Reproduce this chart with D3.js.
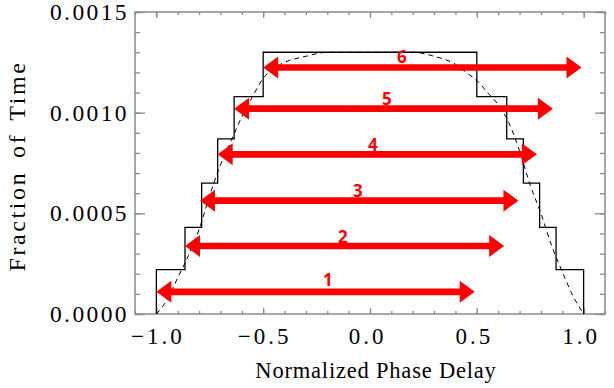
<!DOCTYPE html>
<html>
<head>
<meta charset="utf-8">
<script src="https://cdn.jsdelivr.net/npm/d3@7"></script>
<style>
    body { margin: 0; background: #fff; }
</style>
</head>
<body>
<div class="chart-container"></div>
<script>
// tick labels
const xTickValues = [-1.0, -0.5, 0.0, 0.5, 1.0];
const yTickValues = [0.0000, 0.0005, 0.0010, 0.0015];

// histogram (solid step line)
const binEdges = [-1.0, -0.866, -0.788, -0.713, -0.636, -0.5, 0.5, 0.64, 0.718, 0.794, 0.871, 1.0];
const binValues = [0.00022, 0.00043, 0.00065, 0.00087, 0.00108, 0.0013, 0.00108, 0.00087, 0.00065, 0.00043, 0.00022];

// dashed model curve
const curveX = [-1.0, -0.95, -0.9, -0.85, -0.8, -0.75, -0.7, -0.65, -0.6, -0.55, -0.5, -0.45, -0.4, -0.3, -0.2, -0.1, 0.0,
    0.1, 0.2, 0.3, 0.4, 0.45, 0.5, 0.55, 0.6, 0.65, 0.7, 0.75, 0.8, 0.85, 0.9, 0.95, 1.0];
const curveY = [0, 0.00007, 0.00018, 0.00029, 0.00042, 0.00059, 0.00074, 0.00086, 0.00098, 0.00108, 0.00117, 0.00122, 0.00125, 0.00128, 0.0013, 0.0013, 0.0013,
    0.0013, 0.0013, 0.00128, 0.00124, 0.0012, 0.00116, 0.0011, 0.00104, 0.00095, 0.00081, 0.00064, 0.0005, 0.00034, 0.00021, 0.00009, 0];

// red double arrows
const arrowLabels = ["1", "2", "3", "4", "5", "6"];
const arrowStart = [-1.0, -0.866, -0.796, -0.713, -0.636, -0.5];
const arrowEnd = [0.49, 0.628, 0.695, 0.781, 0.856, 0.99];
const arrowY = [0.00011, 0.000338, 0.000563, 0.000793, 0.00102, 0.001224];
const labelX = [-0.197, -0.127, -0.057, 0.013, 0.079, 0.149];
const labelY = [0.000169, 0.000383, 0.000611, 0.00084, 0.00107, 0.001277];

const width = 614, height = 388;
const plot = { left: 135, right: 605, top: 12, bottom: 314 };
const axisColor = "#8a8a8a";
const serif = "'Liberation Serif', 'Times New Roman', serif";

const svg = d3.select(".chart-container")
    .append("svg")
    .attr("width", width)
    .attr("height", height)
    .style("display", "block");

const xScale = d3.scaleLinear().domain([-1.1, 1.1]).range([plot.left, plot.right]);
const yScale = d3.scaleLinear().domain([0, 0.0015]).range([plot.bottom, plot.top]);

// minor ticks, all four sides
const xMinor = xScale.ticks(22);
const yMinor = yScale.ticks(15);

function styleAxis(g) {
    g.select(".domain").remove();
    g.selectAll(".tick line").attr("stroke", axisColor).attr("stroke-width", 1.3);
}

svg.append("g").attr("transform", `translate(0,${plot.bottom})`)
    .call(d3.axisBottom(xScale).tickValues(xMinor).tickSize(-3).tickFormat(""))
    .call(styleAxis);
svg.append("g").attr("transform", `translate(0,${plot.top})`)
    .call(d3.axisTop(xScale).tickValues(xMinor).tickSize(-3).tickFormat(""))
    .call(styleAxis);
svg.append("g").attr("transform", `translate(${plot.left},0)`)
    .call(d3.axisLeft(yScale).tickValues(yMinor).tickSize(-5).tickFormat(""))
    .call(styleAxis);
svg.append("g").attr("transform", `translate(${plot.right},0)`)
    .call(d3.axisRight(yScale).tickValues(yMinor).tickSize(-5).tickFormat(""))
    .call(styleAxis);

// major ticks with labels
const xAxis = svg.append("g").attr("transform", `translate(0,${plot.bottom})`)
    .call(d3.axisBottom(xScale).tickValues(xTickValues).tickSize(-6).tickPadding(14).tickFormat(d3.format(".1f")))
    .call(styleAxis);
xAxis.selectAll("text")
    .attr("fill", "#000")
    .attr("dy", "0.7em")
    .style("font-family", serif)
    .style("font-size", "23px")
    .style("letter-spacing", "3px")
    .attr("dx", d => d < 0 ? 1 : -3);

svg.append("g").attr("transform", `translate(0,${plot.top})`)
    .call(d3.axisTop(xScale).tickValues(xTickValues).tickSize(-6).tickFormat(""))
    .call(styleAxis);

const yAxis = svg.append("g").attr("transform", `translate(${plot.left},0)`)
    .call(d3.axisLeft(yScale).tickValues(yTickValues).tickSize(-10).tickPadding(6).tickFormat(d3.format(".4f")))
    .call(styleAxis);
yAxis.selectAll("text")
    .attr("fill", "#000")
    .style("font-family", serif)
    .style("font-size", "23.5px")
    .style("letter-spacing", "2.4px");

svg.append("g").attr("transform", `translate(${plot.right},0)`)
    .call(d3.axisRight(yScale).tickValues(yTickValues).tickSize(-10).tickFormat(""))
    .call(styleAxis);

// frame
svg.append("rect")
    .attr("x", plot.left)
    .attr("y", plot.top)
    .attr("width", plot.right - plot.left)
    .attr("height", plot.bottom - plot.top)
    .attr("fill", "none")
    .attr("stroke", axisColor)
    .attr("stroke-width", 1.5);

// axis titles
svg.append("text")
    .attr("x", (xScale(-1.1) + xScale(1.1)) / 2 + 6)
    .attr("y", 378)
    .attr("text-anchor", "middle")
    .style("font-family", serif)
    .style("font-size", "22.5px")
    .style("letter-spacing", "0.8px")
    .text("Normalized Phase Delay");

svg.append("text")
    .attr("transform", `translate(25, 166) rotate(-90)`)
    .attr("text-anchor", "middle")
    .style("font-family", serif)
    .style("font-size", "24px")
    .style("letter-spacing", "2.6px")
    .style("word-spacing", "4px")
    .text("Fraction of Time");

// histogram steps
const stepPoints = [[binEdges[0], 0]]
    .concat(binValues.map((v, i) => [binEdges[i], v]))
    .concat([[binEdges[binEdges.length - 1], 0]]);

const stepLine = d3.line()
    .x(d => xScale(d[0]))
    .y(d => yScale(d[1]))
    .curve(d3.curveStepAfter);

svg.append("path")
    .datum(stepPoints)
    .attr("d", stepLine)
    .attr("fill", "none")
    .attr("stroke", "#000")
    .attr("stroke-width", 1.3);

// dashed curve
const dashLine = d3.line()
    .x((d, i) => xScale(curveX[i]))
    .y(d => yScale(d))
    .curve(d3.curveMonotoneX);

svg.append("path")
    .datum(curveY)
    .attr("d", dashLine)
    .attr("fill", "none")
    .attr("stroke", "#000")
    .attr("stroke-width", 1)
    .attr("stroke-dasharray", "5,4");

// arrows
const shaft = 3.3, headLen = 15, headHalf = 11;
function arrowPath(x0, x1, y) {
    return [
        [x0, y],
        [x0 + headLen, y - headHalf],
        [x0 + headLen, y - shaft],
        [x1 - headLen, y - shaft],
        [x1 - headLen, y - headHalf],
        [x1, y],
        [x1 - headLen, y + headHalf],
        [x1 - headLen, y + shaft],
        [x0 + headLen, y + shaft],
        [x0 + headLen, y + headHalf]
    ].map(p => p.join(",")).join(" ");
}

svg.append("g")
    .selectAll("polygon")
    .data(arrowLabels)
    .join("polygon")
    .attr("points", (d, i) => arrowPath(xScale(arrowStart[i]), xScale(arrowEnd[i]), yScale(arrowY[i])))
    .attr("fill", "#ff0000");

svg.append("g")
    .selectAll("text")
    .data(arrowLabels)
    .join("text")
    .attr("x", (d, i) => xScale(labelX[i]))
    .attr("y", (d, i) => yScale(labelY[i]))
    .attr("dy", "0.36em")
    .attr("text-anchor", "middle")
    .attr("fill", "#ff0000")
    .style("font-family", "'Open Sans', 'Liberation Sans', sans-serif")
    .style("font-weight", "bold")
    .style("font-size", "17px")
    .text(d => d);
</script>
</body>
</html>
